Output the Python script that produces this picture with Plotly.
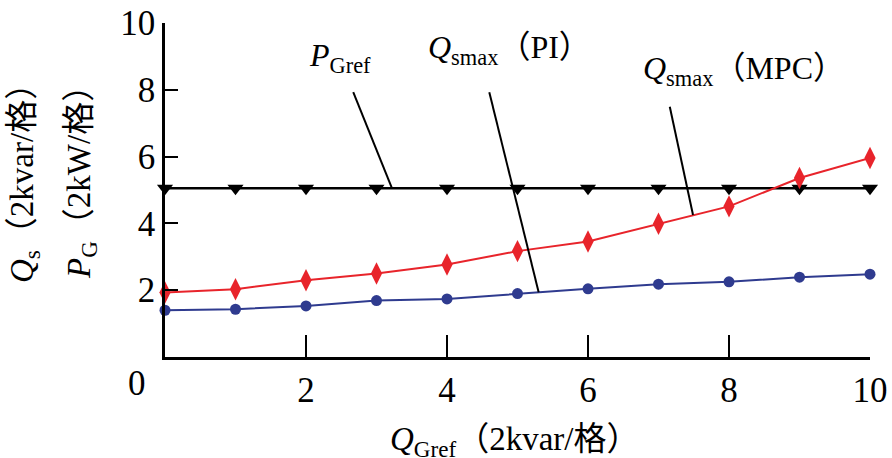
import plotly.graph_objects as go

# Data
x_vals = [0, 1, 2, 3, 4, 5, 6, 7, 8, 9, 10]
p_gref = [5.05] * 11
q_mpc = [1.93, 2.03, 2.30, 2.50, 2.77, 3.17, 3.46, 3.99, 4.51, 5.36, 5.96]
q_pi = [1.40, 1.43, 1.53, 1.69, 1.74, 1.90, 2.04, 2.18, 2.25, 2.39, 2.48]
tick_vals = [2, 4, 6, 8, 10]
tick_text = ["2", "4", "6", "8", "10"]

SERIF = "Liberation Serif"
CJK = "Noto Sans CJK SC"
RED = "#e8242b"
BLUE = "#2f3b8f"


def cj(s):
    return f"<span style='font-family:{CJK}'>{s}</span>"


LP, RP = cj("（"), cj("）")
GE = cj("格")

fig = go.Figure()
fig.add_trace(go.Scatter(x=x_vals, y=p_gref, mode="lines+markers",
                         line=dict(color="black", width=2.5),
                         marker=dict(symbol="triangle-down", size=14, color="black"),
                         cliponaxis=False, showlegend=False))
fig.add_trace(go.Scatter(x=x_vals, y=q_mpc, mode="lines+markers",
                         line=dict(color=RED, width=2),
                         marker=dict(symbol="diamond-tall", size=16, color=RED),
                         cliponaxis=False, showlegend=False))
fig.add_trace(go.Scatter(x=x_vals, y=q_pi, mode="lines+markers",
                         line=dict(color=BLUE, width=2),
                         marker=dict(symbol="circle", size=11, color=BLUE),
                         cliponaxis=False, showlegend=False))

# leader lines
leaders = [((2.67, 7.93), (3.22, 5.05)),
           ((4.60, 7.93), (5.30, 1.94)),
           ((7.16, 7.49), (7.49, 4.25))]
for (x0, y0), (x1, y1) in leaders:
    fig.add_shape(type="line", x0=x0, y0=y0, x1=x1, y1=y1, xref="x", yref="y",
                  line=dict(color="black", width=2))

labels = [
    (2.48, 8.98, "<i>P</i><sub>Gref</sub>"),
    (4.88, 9.34, f"<i>Q</i><sub>smax</sub>{LP}PI{RP}"),
    (8.21, 8.71, f"<i>Q</i><sub>smax</sub>{LP}MPC{RP}"),
]
for lx, ly, t in labels:
    fig.add_annotation(x=lx, y=ly, xref="x", yref="y", text=t, showarrow=False,
                       xanchor="center", yanchor="middle",
                       font=dict(family=SERIF, size=32, color="black"))

W, H = 892, 458
l, r, t, b = 165, 22, 23, 101
pw, ph = W - l - r, H - t - b


def px(xp, yp):
    return (xp - l) / pw, 1 - (yp - t) / ph


def paper_note(xp, yp, text, size, angle=0):
    ax, ay = px(xp, yp)
    fig.add_annotation(x=ax, y=ay, xref="paper", yref="paper", text=text,
                       showarrow=False, textangle=angle,
                       xanchor="center", yanchor="middle",
                       font=dict(family=SERIF, size=size, color="black"))


paper_note(137, 383, "0", 35)
paper_note(20, 175, f"<i>Q</i><sub>s</sub>{LP}2kvar/{GE}{RP}", 33, -90)
paper_note(77, 174, f"<i>P</i><sub>G</sub>{LP}2kW/{GE}{RP}", 33, -90)
paper_note(514, 437, f"<i>Q</i><sub>Gref</sub>{LP}2kvar/{GE}{RP}", 33)

fig.update_layout(
    width=W, height=H,
    margin=dict(l=l, r=r, t=t, b=b, autoexpand=False),
    paper_bgcolor="white", plot_bgcolor="white",
    font=dict(family=SERIF, size=35, color="black"),
    xaxis=dict(range=[0, 10], tickvals=tick_vals, ticktext=tick_text, automargin=False,
               tickfont=dict(family=SERIF, size=35),
               ticks="inside", ticklen=22, tickwidth=2, tickcolor="black",
               showline=True, linecolor="black", linewidth=2.5, showgrid=False, zeroline=False),
    yaxis=dict(range=[0, 10], tickvals=tick_vals, ticktext=tick_text, automargin=False,
               tickfont=dict(family=SERIF, size=35),
               ticks="inside", ticklen=13, tickwidth=2, tickcolor="black",
               showline=True, linecolor="black", linewidth=2.5, showgrid=False, zeroline=False),
)

fig.write_html("out.html", config={"displayModeBar": False},
               post_script="document.body.style.margin='0';document.body.style.padding='0';")
